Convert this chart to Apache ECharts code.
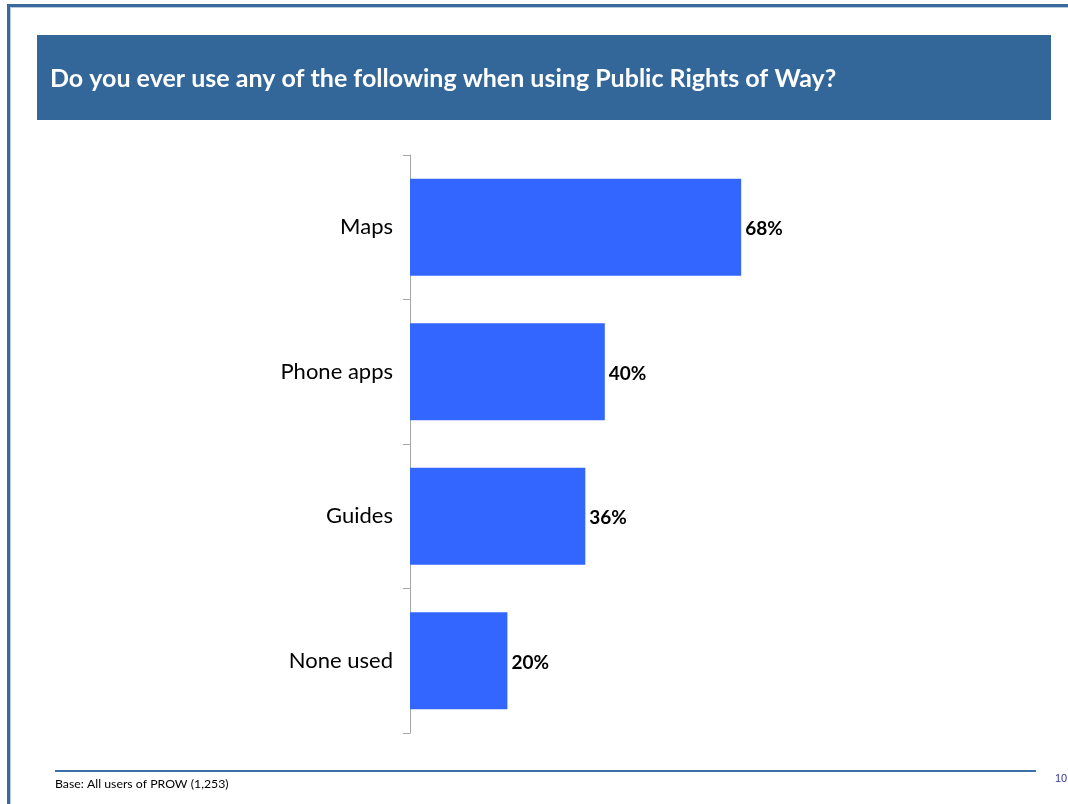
<!DOCTYPE html>
<html>
<head>
<meta charset="utf-8">
<style>
  html, body { margin: 0; padding: 0; background: #ffffff; }
  #chart { width: 1068px; height: 804px; }
</style>
<script src="https://cdn.jsdelivr.net/npm/echarts@6/dist/echarts.min.js"></script>
</head>
<body>
<div id="chart"></div>
<script>
// Survey responses: share of PROW users using each aid
const categories = ['Maps', 'Phone apps', 'Guides', 'None used'];
const shares = [68, 40, 36, 20];

const titleText = 'Do you ever use any of the following when using Public Rights of Way?';
const baseNote = 'Base: All users of PROW (1,253)';
const pageNumber = '10';

const chart = echarts.init(document.getElementById('chart'), null, { renderer: 'canvas' });

chart.setOption({
  backgroundColor: '#ffffff',
  animation: false,
  title: {
    text: titleText,
    left: 50,
    top: 66,
    padding: 0,
    textStyle: { color: '#ffffff', fontFamily: 'Lato', fontWeight: 'bold', fontSize: 25 }
  },
  graphic: [
    // slide frame: top and left rules
    { type: 'rect', z: 0, shape: { x: 7, y: 4, width: 1061, height: 3 }, style: { fill: '#3a6a9c' } },
    { type: 'rect', z: 0, shape: { x: 7, y: 4, width: 3, height: 800 }, style: { fill: '#3a6a9c' } },
    { type: 'rect', z: 0, shape: { x: 10, y: 7, width: 1, height: 797 }, style: { fill: '#b7c9dc' } },
    { type: 'rect', z: 0, shape: { x: 10, y: 7, width: 1058, height: 1 }, style: { fill: '#b7c9dc' } },
    // header band
    { type: 'rect', z: -1, shape: { x: 37, y: 35, width: 1014, height: 85 }, style: { fill: '#336699' } },
    // footer rule and notes
    { type: 'rect', z: 0, shape: { x: 55, y: 770, width: 981, height: 2 }, style: { fill: '#3d70a8' } },
    { type: 'text', z: 1, left: 55, top: 778, style: { text: baseNote, fill: '#000000', font: '12.3px Lato' } },
    { type: 'text', z: 1, left: 1055, top: 773, style: { text: pageNumber, fill: '#333399', font: '11px "Liberation Sans"' } }
  ],
  grid: { left: 410, top: 155, width: 487, height: 578, containLabel: false },
  xAxis: {
    type: 'value',
    min: 0,
    max: 100,
    show: false
  },
  yAxis: {
    type: 'category',
    data: categories,
    inverse: true,
    axisLine: { show: true, lineStyle: { color: '#a6a6a6', width: 1 } },
    axisTick: { show: true, length: 7, lineStyle: { color: '#a6a6a6' } },
    axisLabel: { color: '#000000', fontFamily: 'Lato', fontSize: 22, margin: 17, padding: [4, 0, 0, 0] },
    splitLine: { show: false }
  },
  series: [{
    type: 'bar',
    data: shares,
    barCategoryGap: '33%',
    itemStyle: { color: '#3366ff' },
    label: {
      show: true,
      position: 'right',
      distance: 4,
      offset: [0, 2],
      formatter: p => p.value + '%',
      color: '#000000',
      fontFamily: 'Lato',
      fontWeight: 'bold',
      fontSize: 19
    }
  }]
});
</script>
</body>
</html>
